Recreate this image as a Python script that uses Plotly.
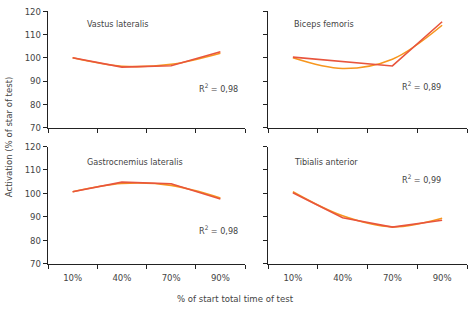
import plotly.graph_objects as go

categories = ["10%", "40%", "70%", "90%"]
y_ticks = [70, 80, 90, 100, 110, 120]

muscles = ["Vastus lateralis", "Biceps femoris", "Gastrocnemius lateralis", "Tibialis anterior"]
r2_labels = ["0,98", "0,89", "0,98", "0,99"]

vastus_data = [100.0, 96.0, 96.6, 102.6]
vastus_trend = [100.0, 96.4, 97.2, 102.0]
biceps_data = [100.3, 98.4, 96.5, 115.5]
biceps_trend = [100.0, 95.4, 99.4, 114.0]
gastro_data = [100.7, 104.8, 104.1, 97.6]
gastro_trend = [100.7, 104.2, 103.4, 98.0]
tibialis_data = [100.3, 89.6, 85.6, 88.5]
tibialis_trend = [100.7, 90.4, 85.7, 89.4]

series_data = [vastus_data, biceps_data, gastro_data, tibialis_data]
series_trend = [vastus_trend, biceps_trend, gastro_trend, tibialis_trend]

RED = "#E8553D"
ORANGE = "#F7961E"
FONT = "Liberation Sans Narrow, DejaVu Sans Condensed, Arial Narrow, sans-serif"
TXT = "#444444"
W, H = 470, 312

xdom = [[48 / W, 245 / W], [268 / W, 467 / W]]
ydom = [[1 - 126 / H, 1 - 5.5 / H], [1 - 267 / H, 1 - 145.7 / H]]

name_pos = [(0.19, 0.895), (0.12, 0.895), (0.19, 0.865), (0.12, 0.865)]
r2_pos = [(0.975, 0.34), (0.88, 0.355), (0.975, 0.29), (0.88, 0.72)]

xpos = [categories.index(c) for c in categories]
boundaries = [p - 0.5 for p in xpos] + [xpos[-1] + 0.5]

fig = go.Figure()
layout = dict(
    width=W, height=H, margin=dict(l=0, r=0, t=0, b=0),
    paper_bgcolor="white", plot_bgcolor="white", showlegend=False,
    font=dict(family=FONT, size=9, color=TXT),
)
annotations = []
for i in range(4):
    row, col = divmod(i, 2)
    n = i + 1
    xa = "x" if n == 1 else f"x{n}"
    ya = "y" if n == 1 else f"y{n}"
    xkey = "xaxis" if n == 1 else f"xaxis{n}"
    ykey = "yaxis" if n == 1 else f"yaxis{n}"
    common_x = dict(domain=xdom[col], anchor=ya, ticks="outside", ticklen=4,
                    tickwidth=1.3, tickcolor="#222", showline=True, linecolor="#222",
                    linewidth=1.3, showgrid=False, zeroline=False)
    if row == 1:
        xs = categories
        layout[xkey] = dict(common_x, type="category", categoryarray=categories,
                            range=[-0.5, 3.5], tickson="boundaries", ticklabelstandoff=5,
                            tickfont=dict(size=9.5, color=TXT, family=FONT))
    else:
        xs = xpos
        layout[xkey] = dict(common_x, type="linear", range=[-0.5, 3.5],
                            tickmode="array", tickvals=boundaries, showticklabels=False)
    fig.add_trace(go.Scatter(x=xs, y=series_trend[i], mode="lines",
                             line=dict(color=ORANGE, width=1.6, shape="spline", smoothing=1.0),
                             xaxis=xa, yaxis=ya, hoverinfo="skip"))
    fig.add_trace(go.Scatter(x=xs, y=series_data[i], mode="lines",
                             line=dict(color=RED, width=1.6),
                             xaxis=xa, yaxis=ya, hoverinfo="skip"))
    layout[ykey] = dict(
        domain=ydom[row], anchor=xa, range=[70, 120], tickmode="array", tickvals=y_ticks,
        ticks="outside", ticklen=4, tickwidth=1.3, tickcolor="#222",
        showline=True, linecolor="#222", linewidth=1.3, showgrid=False, zeroline=False,
        showticklabels=(col == 0), tickfont=dict(size=9.5, color=TXT, family=FONT),
    )
    nx, ny = name_pos[i]
    annotations.append(dict(xref=f"{xa} domain", yref=f"{ya} domain", x=nx, y=ny,
                            xanchor="left", yanchor="middle", showarrow=False,
                            text=muscles[i], font=dict(size=9, color=TXT, family=FONT)))
    rx, ry = r2_pos[i]
    annotations.append(dict(xref=f"{xa} domain", yref=f"{ya} domain", x=rx, y=ry,
                            xanchor="right", yanchor="middle", showarrow=False,
                            text=f"R<sup>2</sup> = {r2_labels[i]}",
                            font=dict(size=9, color=TXT, family=FONT)))

annotations.append(dict(xref="paper", yref="paper", x=8 / W, y=1 - 136 / H,
                        xanchor="center", yanchor="middle", textangle=-90, showarrow=False,
                        text="Activation (% of star of test)",
                        font=dict(size=9.5, color=TXT, family=FONT)))
annotations.append(dict(xref="paper", yref="paper", x=235 / W, y=1 - 303 / H,
                        xanchor="center", yanchor="middle", showarrow=False,
                        text="% of start total time of test",
                        font=dict(size=9.5, color=TXT, family=FONT)))
layout["annotations"] = annotations
fig.update_layout(**layout)
fig.write_html("out.html")
